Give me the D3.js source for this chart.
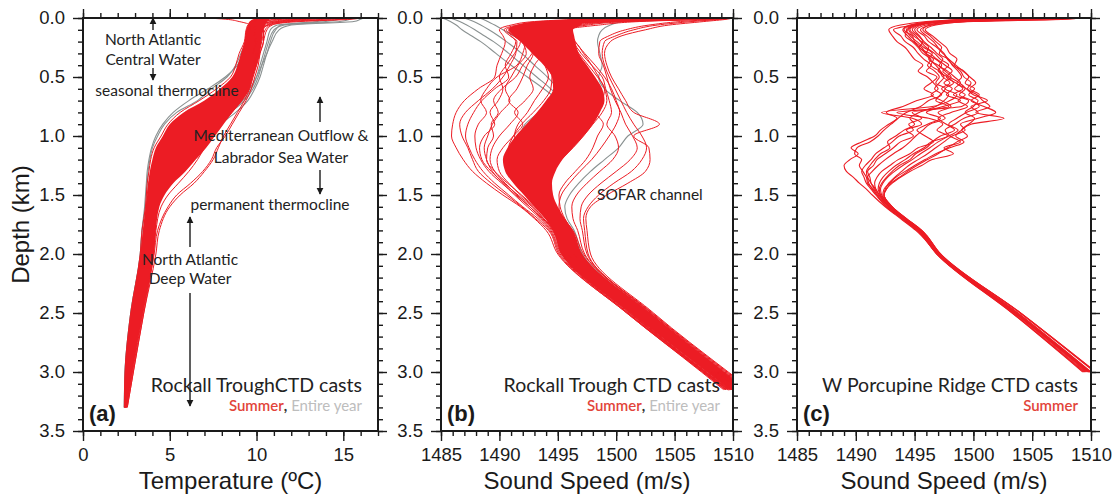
<!DOCTYPE html>
<html><head><meta charset="utf-8">
<script src="https://cdn.jsdelivr.net/npm/d3@7"></script>
<style>body{margin:0;background:#fff}svg{display:block}</style>
</head><body>
<svg id="chart" width="1119" height="497"></svg>
<script>
// ---------------- DATA ----------------
const depthTicks = [0, 0.5, 1.0, 1.5, 2.0, 2.5, 3.0, 3.5];
const tempTicks = [0, 5, 10, 15];
const speedTicks = [1485, 1490, 1495, 1500, 1505, 1510];

// Panel (a): temperature profiles (deg C) at depth levels (km)
const depthsA = [0,0.01,0.03,0.06,0.1,0.2,0.3,0.4,0.5,0.6,0.7,0.8,0.9,1.0,1.1,1.2,1.3,1.4,1.5,1.6,1.8,2.0,2.5,3.0,3.3];
const summerBandLoA = [10.0,9.8,9.6,9.5,9.4,9.3,9.1,8.9,8.6,7.9,7.0,5.8,5.0,4.6,4.2,4.0,3.85,3.75,3.7,3.62,3.45,3.3,2.75,2.42,2.38];
const summerBandHiA = [11.0,10.8,10.6,10.5,10.4,10.3,10.2,10.0,9.8,9.6,9.2,8.6,8.1,7.6,7.1,6.5,5.9,5.2,4.7,4.4,4.2,4.1,3.45,2.85,2.52];
const summerA1 = [16.0,15.5,12.5,10.8,10.5,10.3,10.1,9.9,9.7,9.4,9.0,8.4,7.8,7.2,6.8,6.4,5.8,5.1,4.6,4.3,4.1,4.0,3.4,2.8,2.5];
const summerA2 = [15.2,14.0,11.8,10.6,10.2,10.0,9.8,9.6,9.4,9.1,8.6,7.8,7.0,6.3,5.8,5.4,5.0,4.6,4.3,4.1,3.9,3.8,3.3,2.75,2.48];
const summerA3 = [7.1,8.2,9.0,9.6,9.6,9.5,9.3,9.1,8.9,8.4,7.6,6.6,5.6,5.0,4.6,4.3,4.1,3.9,3.8,3.7,3.5,3.35,2.8,2.45,2.4];
const summerA4 = [14.0,12.5,11.2,10.6,10.4,10.4,10.2,10.1,9.9,9.7,9.4,9.0,8.6,8.2,7.7,7.4,6.9,6.2,5.4,4.9,4.3,4.1,3.5,2.9,2.55];
const summerA5 = [12.5,11.5,10.8,10.2,9.9,9.7,9.5,9.3,9.0,8.6,8.0,7.1,6.2,5.5,5.0,4.6,4.3,4.1,3.9,3.8,3.6,3.5,2.9,2.55,2.42];
const summerA6 = [13.5,12.8,11.2,10.4,10.1,9.9,9.7,9.5,9.2,8.9,8.3,7.5,6.6,5.9,5.3,4.9,4.6,4.3,4.1,3.9,3.7,3.6,3.0,2.6,2.45];
const summerA7 = [10.5,10.2,9.8,9.5,9.4,9.3,9.0,8.8,8.5,7.7,6.7,5.6,4.9,4.5,4.1,3.9,3.8,3.7,3.65,3.6,3.4,3.3,2.75,2.42,2.38];
const summerA8 = [14.8,13.2,11.5,10.7,10.3,10.2,10.0,9.8,9.6,9.3,8.8,8.1,7.4,6.8,6.3,5.9,5.4,4.9,4.5,4.2,4.0,3.9,3.3,2.7,2.45];
const summerA9 = [11.5,11.0,10.6,10.4,10.3,10.2,10.1,10.0,9.8,9.6,9.3,8.9,8.5,8.1,7.8,7.5,7.0,6.4,5.6,5.0,4.4,4.2,3.5,2.9,2.55];
const summerA10 = [12.0,11.3,10.4,10.0,9.8,9.6,9.4,9.2,8.9,8.3,7.3,6.2,5.3,4.8,4.4,4.1,3.95,3.8,3.7,3.65,3.5,3.4,2.85,2.5,2.4];
const summerA11 = [15.8,15.0,12.0,10.9,10.6,10.4,10.2,10.0,9.7,9.5,9.1,8.6,8.0,7.4,7.0,6.6,6.1,5.5,4.9,4.5,4.2,4.05,3.45,2.85,2.52];
const summerA12 = [13.0,12.0,10.9,10.3,10.0,9.8,9.6,9.4,9.1,8.7,8.1,7.2,6.4,5.7,5.1,4.7,4.4,4.2,4.0,3.85,3.65,3.55,2.95,2.55,2.43];
const yearA1 = [16.2,16.0,15.6,12.0,11.3,10.9,10.6,10.4,10.2,9.9,9.5,8.8,7.9,7.1,6.5,6.0,5.5,5.0,4.6,4.3,4.05,3.95,3.35,2.75,2.48];
const yearA2 = [15.6,15.4,14.8,11.6,11.0,10.7,10.5,10.3,10.1,9.8,9.3,8.5,7.6,6.8,6.2,5.6,5.1,4.7,4.4,4.2,4.0,3.9,3.3,2.72,2.46];
const yearA3 = [10.2,10.0,9.8,9.7,9.6,9.4,9.1,8.8,8.3,7.4,6.6,5.4,4.7,4.3,4.0,3.85,3.75,3.7,3.65,3.6,3.4,3.3,2.75,2.42,2.38];
const yearA4 = [14.5,14.2,13.5,11.2,10.8,10.6,10.4,10.2,10.0,9.7,9.2,8.3,7.3,6.4,5.7,5.2,4.8,4.4,4.1,3.95,3.75,3.6,3.1,2.62,2.44];
const yearA5 = [10.8,10.5,10.1,9.9,9.7,9.5,9.2,8.9,8.2,7.2,6.1,5.2,4.6,4.2,3.95,3.8,3.7,3.65,3.6,3.55,3.4,3.3,2.75,2.42,2.38];
const yearA6 = [15.0,14.8,14.0,11.4,11.1,10.8,10.6,10.3,10.0,9.6,9.0,8.0,6.8,5.9,5.2,4.7,4.4,4.15,3.95,3.8,3.6,3.5,2.95,2.55,2.42];

// Panel (b): Rockall Trough sound speed (m/s)
const depthsB = [0,0.01,0.03,0.06,0.1,0.15,0.2,0.3,0.4,0.5,0.6,0.7,0.8,0.9,1.0,1.1,1.2,1.3,1.4,1.5,1.6,1.7,1.8,2.0,2.5,3.0,3.15];
const summerBandLoB = [1500,1497,1493.5,1491.5,1490.8,1491.2,1491.8,1492.8,1493.8,1494.5,1494.6,1494.0,1493.2,1492.3,1491.4,1490.7,1490.3,1490.5,1491.2,1492.1,1493.0,1493.9,1494.6,1495.3,1501.3,1507.8,1509.7];
const summerBandHiB = [1503,1500.5,1497.2,1497.0,1496.3,1496.4,1496.5,1496.8,1497.5,1498.2,1498.8,1499.0,1498.6,1498.0,1497.2,1496.3,1495.4,1494.8,1494.5,1494.6,1495.0,1495.6,1496.3,1497.1,1502.9,1509.2,1511.1];
const summerB1 = [1509.5,1507,1499,1495.5,1493.5,1494.0,1494.6,1495.4,1496.2,1496.8,1497.3,1497.0,1496.4,1495.5,1494.6,1493.8,1493.1,1492.6,1492.5,1493.0,1493.7,1494.5,1495.3,1496.2,1502.2,1508.6,1510.5];
const summerB2 = [1508,1505,1497.5,1494.5,1492.5,1493.0,1493.5,1494.3,1495.0,1495.6,1496.1,1495.9,1495.2,1494.5,1493.6,1492.8,1492.2,1491.9,1492.0,1492.6,1493.4,1494.2,1495.0,1495.9,1501.8,1508.2,1510.2];
const summerB3 = [1506,1503,1496.5,1493.5,1491.8,1492.2,1493.0,1493.8,1494.6,1495.2,1495.5,1495.1,1494.3,1493.4,1492.6,1491.9,1491.4,1491.5,1491.9,1492.5,1493.3,1494.1,1494.8,1495.6,1501.4,1507.9,1509.9];
const summerB4 = [1510,1508.5,1500,1496.5,1495.2,1495.5,1496.0,1496.6,1497.2,1497.8,1498.2,1498.0,1497.4,1496.8,1496.0,1495.1,1494.3,1493.6,1493.3,1493.6,1494.2,1494.9,1495.7,1496.6,1502.6,1508.9,1510.9];
const summerB5 = [1504,1501,1495.5,1493.0,1491.0,1491.6,1492.3,1493.2,1494.0,1494.8,1495.0,1494.5,1493.6,1492.5,1491.8,1491.2,1491.0,1491.3,1491.8,1492.4,1493.2,1494.0,1494.7,1495.5,1501.2,1507.6,1509.6];
const summerB6 = [1507,1504,1498,1495.0,1494.0,1494.4,1495.0,1495.8,1496.5,1497.2,1497.8,1497.5,1497.0,1496.3,1495.6,1494.8,1494.0,1493.3,1493.0,1493.3,1494.0,1494.8,1495.6,1496.4,1502.4,1508.7,1510.6];
const summerB7 = [1502,1499,1494.5,1492.0,1490.6,1491.2,1492.0,1493.0,1493.9,1494.5,1494.4,1493.8,1492.9,1491.9,1491.2,1490.8,1490.9,1491.3,1491.9,1492.6,1493.4,1494.1,1494.8,1495.4,1501.0,1507.4,1509.4];
const summerB8 = [1509,1506,1498.5,1495.8,1494.8,1495.2,1495.8,1496.5,1497.3,1498.0,1498.6,1498.9,1498.4,1497.6,1496.7,1495.7,1494.8,1494.0,1493.6,1493.8,1494.4,1495.2,1496.0,1496.9,1502.8,1509.2,1511.2];
const summerB9 = [1505,1502,1497,1494.2,1493.0,1493.5,1494.1,1494.9,1495.6,1496.3,1496.7,1496.3,1495.7,1494.9,1494.0,1493.1,1492.5,1492.2,1492.3,1492.9,1493.6,1494.4,1495.2,1496.0,1502.0,1508.4,1510.4];
const summerB10 = [1508.5,1505.5,1499,1496.0,1495.0,1495.6,1496.4,1497.2,1497.9,1498.5,1499.0,1499.2,1498.8,1498.0,1497.2,1496.3,1495.3,1494.5,1494.0,1494.1,1494.7,1495.5,1496.3,1497.2,1503.0,1509.4,1511.4];
const summerB11 = [1503,1500,1496,1493.4,1492.2,1492.6,1493.2,1494.0,1494.8,1495.5,1495.9,1495.6,1495.0,1494.2,1493.2,1492.4,1491.8,1491.7,1491.9,1492.5,1493.3,1494.1,1494.9,1495.7,1501.6,1508.0,1510.0];
const summerB12 = [1506.5,1503.5,1497.5,1495.2,1494.4,1494.8,1495.4,1496.2,1497.0,1497.7,1498.1,1497.6,1496.9,1496.0,1495.0,1494.2,1493.5,1492.9,1492.8,1493.2,1493.9,1494.7,1495.5,1496.3,1502.3,1508.8,1510.7];
const summerB13 = [1500,1497,1493,1491.0,1490.0,1490.3,1490.5,1490.2,1489.8,1489.6,1488.2,1487.0,1486.3,1486.0,1485.9,1486.3,1486.9,1487.7,1488.9,1490.3,1491.8,1493.0,1494.0,1495.0,1500.9,1507.3,1509.2];
const summerB14 = [1502.5,1499.5,1494,1491.8,1490.8,1491.0,1491.4,1491.0,1490.5,1490.8,1489.6,1488.5,1487.8,1487.3,1487.1,1487.4,1487.9,1488.6,1489.6,1490.8,1492.0,1493.3,1494.3,1495.2,1501.0,1507.5,1509.4];
const summerB15 = [1504.5,1501,1495,1492.5,1491.4,1491.8,1492.2,1492.0,1491.5,1489.8,1488.9,1488.4,1488.9,1488.2,1487.9,1488.0,1488.4,1489.1,1490.2,1491.4,1492.6,1493.7,1494.6,1495.4,1501.2,1507.6,1509.6];
const summerB16 = [1503.5,1500.5,1495,1492.4,1491.2,1491.5,1491.8,1491.3,1490.6,1490.0,1490.3,1489.9,1489.2,1489.6,1488.7,1488.3,1488.5,1489.3,1490.4,1491.6,1492.8,1493.8,1494.7,1495.5,1501.3,1507.7,1509.7];
const summerB17 = [1506,1502.5,1496,1493.2,1492.0,1492.6,1493.2,1492.8,1492.0,1491.4,1490.2,1489.5,1489.9,1489.3,1489.5,1489.0,1488.9,1489.6,1490.7,1491.9,1493.0,1494.0,1494.8,1495.6,1501.4,1507.8,1509.8];
const summerB18 = [1501,1498,1493.5,1491.5,1490.4,1490.9,1491.5,1491.4,1490.9,1490.3,1489.4,1488.2,1487.1,1486.6,1486.8,1487.3,1487.7,1488.2,1489.3,1490.6,1491.9,1493.1,1494.2,1495.1,1500.9,1507.4,1509.3];
const summerB19 = [1510,1509.5,1507.5,1504.5,1502.5,1500.5,1499.5,1499.0,1499.2,1499.6,1500.2,1500.8,1501.5,1503.7,1501.5,1502.8,1502.9,1502.5,1501.0,1499.2,1497.8,1497.4,1497.5,1497.8,1503.2,1509.6,1511.6];
const summerB20 = [1510,1509,1506.5,1503.5,1501.5,1500.0,1499.0,1498.8,1499.0,1499.4,1499.9,1500.4,1500.9,1501.5,1502.2,1502.6,1502.2,1501.3,1499.8,1498.5,1497.6,1497.2,1497.3,1497.6,1503.1,1509.5,1511.5];
const summerB21 = [1509.8,1508.5,1505.5,1502.8,1500.8,1499.4,1498.6,1498.5,1498.9,1499.2,1499.5,1499.9,1500.4,1500.8,1501.4,1501.8,1501.2,1500.0,1498.7,1497.6,1497.0,1496.9,1497.1,1497.5,1503.0,1509.3,1511.3];
const summerB22 = [1509.5,1507.5,1502,1498.5,1495.8,1496.0,1496.3,1497.0,1497.9,1498.8,1499.1,1499.4,1499.6,1499.2,1499.9,1500.2,1499.7,1498.6,1497.5,1496.6,1496.2,1496.3,1496.7,1497.3,1502.9,1509.2,1511.2];
const summerB23 = [1508,1506,1500,1497.0,1495.5,1495.8,1496.1,1496.8,1497.6,1498.4,1499.0,1498.8,1498.3,1498.9,1498.4,1498.0,1497.4,1496.5,1495.6,1495.1,1495.2,1495.6,1496.2,1497.0,1502.7,1509.0,1511.0];
const summerB24 = [1509,1507,1501,1497.5,1495.9,1496.2,1496.5,1497.3,1498.2,1499.0,1499.6,1500.0,1500.3,1500.0,1499.4,1498.7,1497.9,1496.9,1496.0,1495.3,1495.1,1495.4,1496.0,1496.8,1502.5,1508.9,1510.9];
const summerB25 = [1503,1500,1495,1492.8,1491.6,1492.0,1492.5,1492.9,1492.4,1492.0,1491.5,1490.8,1491.6,1490.9,1490.0,1489.4,1489.2,1489.6,1490.5,1491.5,1492.6,1493.6,1494.5,1495.4,1501.2,1507.6,1509.6];
const summerB26 = [1505,1502,1496,1493.5,1492.3,1492.7,1493.2,1493.6,1493.0,1492.6,1492.9,1492.2,1491.3,1492.0,1491.2,1490.3,1489.8,1490.0,1490.8,1491.8,1492.9,1493.8,1494.6,1495.5,1501.3,1507.7,1509.7];
const summerB27 = [1501.5,1498.5,1494,1491.9,1490.9,1491.3,1491.9,1492.3,1491.6,1491.0,1490.5,1490.9,1490.1,1489.4,1489.0,1488.7,1488.9,1489.4,1490.3,1491.3,1492.4,1493.5,1494.4,1495.3,1501.1,1507.5,1509.5];
const summerB28 = [1507.5,1505,1498,1495.3,1494.0,1494.2,1494.0,1493.6,1493.9,1494.2,1493.7,1493.0,1492.4,1491.6,1491.3,1491.5,1490.8,1491.0,1491.6,1492.3,1493.1,1494.0,1494.8,1495.6,1501.5,1507.9,1509.9];
const yearB1 = [1485.1,1485.4,1485.8,1486.3,1486.8,1487.6,1488.4,1489.7,1491.0,1492.4,1493.8,1494.9,1495.0,1494.3,1493.4,1492.6,1492.0,1491.9,1492.1,1492.7,1493.5,1494.3,1495.1,1495.9,1501.7,1508.1,1510.1];
const yearB2 = [1485.8,1486.1,1486.6,1487.2,1487.9,1488.7,1489.5,1490.8,1492.0,1493.2,1494.4,1495.4,1495.4,1494.6,1493.8,1493.0,1492.4,1492.2,1492.4,1493.0,1493.8,1494.6,1495.4,1496.2,1502.0,1508.4,1510.4];
const yearB3 = [1487.0,1487.3,1487.8,1488.4,1489.1,1489.9,1490.6,1491.9,1493.0,1494.1,1494.9,1495.0,1494.2,1493.3,1492.5,1491.8,1491.4,1491.5,1491.9,1492.6,1493.4,1494.2,1495.0,1495.8,1501.6,1508.0,1510.0];
const yearB4 = [1488.3,1488.6,1489.0,1489.6,1490.3,1491.2,1492.0,1493.1,1494.1,1494.8,1495.2,1494.6,1493.4,1492.2,1491.8,1491.6,1491.5,1491.7,1492.1,1492.8,1493.5,1494.3,1495.1,1495.9,1501.7,1508.1,1510.1];
const yearB5 = [1503,1502,1500.5,1499.5,1498.8,1498.5,1498.4,1498.6,1498.8,1498.5,1499.0,1500.3,1501.8,1502.3,1501.0,1500.2,1499.0,1497.8,1496.8,1496.0,1495.6,1495.8,1496.4,1497.1,1502.8,1509.1,1511.1];

// Panel (c): W Porcupine Ridge sound speed (m/s)
const depthsC = [0,0.01,0.03,0.06,0.1,0.15,0.2,0.25,0.3,0.35,0.4,0.45,0.5,0.55,0.6,0.65,0.7,0.75,0.8,0.85,0.9,0.95,1.0,1.05,1.1,1.15,1.2,1.25,1.3,1.35,1.4,1.45,1.5,1.6,1.7,1.8,2.0,2.5,3.0];
const summerC1 = [1507.5,1504,1498,1495,1493.2,1493.8,1494.2,1494.9,1495.3,1495.8,1496.4,1496.0,1496.9,1496.4,1495.8,1496.6,1495.2,1494.0,1492.6,1493.5,1492.8,1492.1,1491.6,1490.5,1489.6,1490.2,1489.5,1489.0,1489.2,1489.8,1490.3,1490.9,1491.4,1492.5,1493.8,1495.1,1497.0,1503.6,1509.7];
const summerC2 = [1509,1508,1500,1496.5,1495.5,1496.0,1496.6,1497.0,1497.5,1497.8,1498.3,1498.9,1499.2,1499.8,1499.5,1500.3,1500.8,1501.4,1500.2,1502.6,1499.8,1499.0,1498.5,1499.2,1498.0,1496.8,1495.9,1495.0,1494.2,1493.4,1492.9,1492.4,1492.3,1493.0,1494.3,1495.6,1497.2,1504.0,1510.4];
const summerC3 = [1504,1502,1497.5,1495.2,1494.5,1494.9,1495.6,1496.2,1496.0,1496.8,1497.3,1497.0,1497.8,1498.3,1497.6,1498.6,1498.0,1496.5,1492.2,1494.8,1495.6,1494.3,1494.9,1493.8,1493.2,1492.5,1491.8,1491.5,1491.0,1491.2,1491.3,1491.6,1491.9,1492.8,1494.1,1495.4,1497.0,1503.5,1509.6];
const summerC4 = [1501,1499,1496,1493.8,1492.8,1493.1,1493.5,1494.2,1494.6,1495.0,1495.7,1495.3,1496.1,1496.6,1497.0,1496.4,1497.3,1498.1,1497.0,1497.6,1496.3,1495.7,1495.1,1494.6,1494.0,1493.2,1492.5,1491.9,1491.4,1491.0,1491.1,1491.4,1491.8,1492.7,1494.0,1495.3,1496.9,1503.3,1509.3];
const summerC5 = [1508,1506,1499,1496.0,1495.2,1495.8,1496.2,1496.9,1497.4,1497.9,1498.2,1498.7,1499.0,1498.6,1499.4,1500.0,1501.2,1499.8,1500.4,1499.2,1498.4,1497.6,1498.0,1498.9,1497.5,1498.3,1496.5,1495.6,1494.6,1493.8,1493.1,1492.6,1492.4,1493.1,1494.2,1495.5,1497.1,1503.8,1510.0];
const summerC6 = [1505,1503,1497,1494.6,1494.0,1494.4,1494.9,1495.4,1495.9,1496.3,1496.8,1497.2,1497.5,1497.1,1496.7,1497.3,1496.2,1495.5,1494.3,1493.6,1493.0,1492.4,1491.9,1491.2,1490.1,1489.9,1490.5,1490.3,1490.6,1490.9,1491.0,1491.5,1491.8,1492.6,1493.9,1495.2,1496.9,1503.5,1509.8];
const summerC7 = [1502,1500,1497.2,1495.4,1494.8,1495.3,1495.7,1495.4,1496.3,1496.9,1497.6,1498.2,1497.7,1498.5,1499.1,1498.3,1499.6,1499.0,1493.5,1496.2,1497.4,1496.9,1497.8,1496.4,1495.8,1494.9,1494.2,1493.4,1492.8,1492.3,1492.0,1491.9,1492.1,1492.9,1494.2,1495.4,1497.0,1503.6,1509.9];
const summerC8 = [1506.5,1504.5,1498.5,1496.3,1495.7,1496.3,1496.8,1497.3,1497.1,1497.9,1498.5,1499.1,1499.6,1499.3,1500.1,1499.6,1500.4,1500.0,1499.3,1500.1,1499.6,1499.0,1499.5,1498.6,1497.8,1497.0,1496.1,1495.2,1494.4,1493.7,1493.0,1492.6,1492.4,1493.1,1494.3,1495.6,1497.2,1504.0,1510.3];
const summerC9 = [1503,1501,1497,1495,1494.3,1494.6,1495.2,1495.8,1496.5,1496.2,1497.0,1497.6,1498.1,1497.5,1498.2,1497.7,1498.9,1497.4,1496.0,1497.2,1496.1,1495.2,1495.9,1496.6,1495.3,1494.6,1493.6,1492.9,1492.2,1491.8,1491.6,1491.7,1492.0,1492.8,1494.1,1495.4,1497.0,1503.6,1509.8];
const summerC10 = [1500.5,1499.5,1496.5,1494.8,1494.1,1494.8,1495.0,1495.6,1496.0,1496.6,1496.4,1497.1,1497.4,1498.0,1497.3,1497.9,1497.5,1496.8,1495.4,1494.6,1495.0,1494.1,1493.4,1492.7,1492.9,1492.1,1491.6,1491.2,1490.9,1491.0,1491.3,1491.7,1492.0,1492.8,1494.0,1495.3,1496.9,1503.3,1509.4];
const summerC11 = [1508.8,1507.5,1499.5,1496.8,1495.9,1496.5,1497.1,1497.7,1498.0,1498.6,1498.4,1499.2,1499.7,1500.2,1499.7,1500.5,1499.8,1500.9,1501.9,1500.4,1498.9,1499.3,1498.2,1497.5,1496.8,1496.1,1495.3,1494.5,1493.9,1493.3,1492.8,1492.5,1492.4,1493.1,1494.3,1495.6,1497.2,1504.0,1510.4];
const summerC12 = [1505.5,1503.5,1497.8,1495.6,1495.0,1495.4,1495.8,1496.4,1496.9,1497.4,1497.1,1497.8,1498.4,1498.9,1498.4,1499.3,1498.7,1499.5,1498.1,1497.0,1497.7,1498.4,1497.2,1496.5,1496.0,1495.1,1494.6,1493.7,1493.1,1492.6,1492.2,1492.0,1492.1,1492.9,1494.2,1495.5,1497.1,1503.7,1509.9];
const summerC13 = [1503.5,1502,1497.4,1495.3,1494.6,1495.1,1495.5,1496.0,1496.7,1497.2,1497.9,1497.4,1498.0,1498.8,1499.3,1498.8,1499.9,1500.5,1499.4,1498.6,1497.9,1498.7,1497.9,1497.0,1496.3,1495.5,1494.8,1494.0,1493.3,1492.7,1492.3,1492.1,1492.2,1493.0,1494.2,1495.5,1497.1,1503.7,1510.0];
const summerC14 = [1502.5,1501,1496.8,1494.9,1494.4,1494.2,1494.8,1495.3,1495.7,1496.4,1496.1,1496.7,1497.1,1496.8,1497.6,1497.2,1496.8,1497.9,1494.8,1495.6,1494.5,1494.9,1493.7,1493.1,1492.4,1491.7,1491.3,1490.8,1490.5,1490.7,1490.9,1491.3,1491.7,1492.6,1493.9,1495.2,1496.9,1503.4,1509.5];

// ---------------- DRAWING ----------------
(function () {
const RED = "#ec1c24", GRAY = "#8a9191", INK = "#1a1a1a";
const AXFONT = "'Liberation Sans', Arial, Helvetica, sans-serif";
const ANFONT = "Lato, 'Open Sans', sans-serif";
const svg = d3.select("#chart");
const TOP = 18, BOT = 431;
const y = d3.scaleLinear().domain([0, 3.5]).range([TOP, BOT]);
const depthMinor = d3.range(0, 3.5001, 0.1);

const panels = [
  {id: "a", x: d3.scaleLinear().domain([0, 17]).range([83, 378]), ticks: tempTicks, minor: d3.range(0, 17.001, 1), fmt: d3.format("d"),
   title: "Temperature (\u00baC)", depths: depthsA,
   band: [summerBandLoA, summerBandHiA],
   gray: [yearA1, yearA2, yearA3, yearA4, yearA5, yearA6],
   red: [summerA1, summerA2, summerA3, summerA4, summerA5, summerA6, summerA7, summerA8, summerA9, summerA10, summerA11, summerA12], lw: 1},
  {id: "b", x: d3.scaleLinear().domain([1485, 1510]).range([441, 733]), ticks: speedTicks, minor: d3.range(1485, 1510.001, 1), fmt: d3.format("d"),
   title: "Sound Speed (m/s)", depths: depthsB,
   band: [summerBandLoB, summerBandHiB],
   gray: [yearB1, yearB2, yearB3, yearB4, yearB5],
   red: [summerB1, summerB2, summerB3, summerB4, summerB5, summerB6, summerB7, summerB8, summerB9, summerB10, summerB11, summerB12,
         summerB13, summerB14, summerB15, summerB16, summerB17, summerB18, summerB19, summerB20, summerB21, summerB22, summerB23, summerB24,
         summerB25, summerB26, summerB27, summerB28], lw: 1},
  {id: "c", x: d3.scaleLinear().domain([1485, 1510]).range([797, 1091]), ticks: speedTicks, minor: d3.range(1485, 1510.001, 1), fmt: d3.format("d"),
   title: "Sound Speed (m/s)", depths: depthsC, band: null, gray: [],
   red: [summerC1, summerC2, summerC3, summerC4, summerC5, summerC6, summerC7, summerC8, summerC9, summerC10, summerC11, summerC12, summerC13, summerC14], lw: 1.1}
];

const defs = svg.append("defs");
defs.append("marker").attr("id", "ah").attr("viewBox", "0 0 10 10").attr("refX", 9).attr("refY", 5)
  .attr("markerUnits", "userSpaceOnUse").attr("markerWidth", 7).attr("markerHeight", 8).attr("orient", "auto")
  .append("path").attr("d", "M0,0 L10,5 L0,10 z").attr("fill", INK);

panels.forEach(p => {
  const [x0, x1] = p.x.range();
  defs.append("clipPath").attr("id", "clip-" + p.id).append("rect")
    .attr("x", x0).attr("y", TOP).attr("width", x1 - x0).attr("height", BOT - TOP);
  const g = svg.append("g").attr("clip-path", `url(#clip-${p.id})`);
  const line = d3.line().curve(d3.curveMonotoneY).x(v => p.x(v)).y((v, i) => y(p.depths[i]));
  g.selectAll("path.gray").data(p.gray).join("path").attr("class", "gray")
    .attr("d", line).attr("fill", "none").attr("stroke", GRAY).attr("stroke-width", 1.1);
  if (p.band) {
    const area = d3.area().curve(d3.curveMonotoneY).y((d, i) => y(p.depths[i]))
      .x0((d, i) => p.x(p.band[0][i])).x1((d, i) => p.x(p.band[1][i]));
    g.append("path").datum(p.depths).attr("d", area).attr("fill", RED);
  }
  g.selectAll("path.red").data(p.red).join("path").attr("class", "red")
    .attr("d", line).attr("fill", "none").attr("stroke", RED).attr("stroke-width", p.lw).attr("stroke-linejoin", "round");

  const styleAxis = sel => {
    sel.select(".domain").remove();
    sel.selectAll(".tick line").attr("stroke", INK).attr("stroke-width", 1.4);
    sel.selectAll("text").attr("font-family", AXFONT).attr("font-size", 18.5).attr("fill", INK);
  };
  svg.append("g").attr("transform", `translate(${x0},0)`).call(d3.axisLeft(y).tickValues(depthMinor).tickSize(5).tickFormat("")).call(styleAxis);
  svg.append("g").attr("transform", `translate(${x0},0)`).call(d3.axisLeft(y).tickValues(depthTicks).tickSize(10).tickPadding(8).tickFormat(d3.format(".1f"))).call(styleAxis);
  svg.append("g").attr("transform", `translate(${x1},0)`).call(d3.axisRight(y).tickValues(depthMinor).tickSize(5).tickFormat("")).call(styleAxis);
  svg.append("g").attr("transform", `translate(${x1},0)`).call(d3.axisRight(y).tickValues(depthTicks).tickSize(9).tickFormat("")).call(styleAxis);
  svg.append("g").attr("transform", `translate(0,${TOP})`).call(d3.axisTop(p.x).tickValues(p.minor).tickSize(5).tickFormat("")).call(styleAxis);
  svg.append("g").attr("transform", `translate(0,${TOP})`).call(d3.axisTop(p.x).tickValues(p.ticks).tickSize(9).tickFormat("")).call(styleAxis);
  svg.append("g").attr("transform", `translate(0,${BOT})`).call(d3.axisBottom(p.x).tickValues(p.minor).tickSize(5).tickFormat("")).call(styleAxis);
  svg.append("g").attr("transform", `translate(0,${BOT})`).call(d3.axisBottom(p.x).tickValues(p.ticks).tickSize(10).tickPadding(7).tickFormat(p.fmt)).call(styleAxis);

  svg.append("rect").attr("x", x0).attr("y", TOP).attr("width", x1 - x0).attr("height", BOT - TOP)
    .attr("fill", "none").attr("stroke", INK).attr("stroke-width", 2);

  svg.append("text").attr("x", (x0 + x1) / 2).attr("y", 489).attr("text-anchor", "middle")
    .attr("font-family", AXFONT).attr("font-size", 24).attr("fill", INK).text(p.title);
  svg.append("text").attr("x", x0 + 6).attr("y", 421).attr("font-family", AXFONT).attr("font-weight", "bold")
    .attr("font-size", 22).attr("fill", INK).text(`(${p.id})`);
});

svg.append("text").attr("transform", `translate(29,${(TOP + BOT) / 2}) rotate(-90)`).attr("text-anchor", "middle")
  .attr("font-family", AXFONT).attr("font-size", 24).attr("fill", INK).text("Depth (km)");

const note = (x, yy, txt, size, anchor) => svg.append("text").attr("x", x).attr("y", yy)
  .attr("text-anchor", anchor || "middle").attr("font-family", ANFONT).attr("font-size", size).attr("fill", "#222").text(txt);
note(153, 45, "North Atlantic", 15.5);
note(153, 65, "Central Water", 15.5);
note(167, 96, "seasonal thermocline", 15.5);
note(281, 141, "Mediterranean Outflow &", 15.5);
note(281, 163, "Labrador Sea Water", 15.5);
note(270, 210, "permanent thermocline", 15.5);
note(190, 265, "North Atlantic", 15.5);
note(190, 284, "Deep Water", 15.5);
note(597, 200, "SOFAR channel", 15.5, "start");
note(362, 392, "Rockall TroughCTD casts", 19.5, "end");
note(720, 392, "Rockall Trough CTD casts", 19.5, "end");
note(1078, 392, "W Porcupine Ridge CTD casts", 19.5, "end");

const legend = (x, withYear) => {
  const t = svg.append("text").attr("x", x).attr("y", 411).attr("text-anchor", "end")
    .attr("font-family", ANFONT).attr("font-size", 15);
  t.append("tspan").attr("fill", "#e2443a").attr("font-weight", 600).text("Summer");
  if (withYear) {
    t.append("tspan").attr("fill", "#333").attr("font-weight", 700).text(",");
    t.append("tspan").attr("fill", "#bdbdbd").text(" Entire year");
  }
};
legend(362, true); legend(720, true); legend(1078, false);

const arrows = [[153, 30, 18], [153, 68, 80], [320, 122, 97], [320, 170, 194], [190, 247, 217], [190, 293, 406]];
svg.selectAll("line.arrow").data(arrows).join("line").attr("class", "arrow")
  .attr("x1", d => d[0]).attr("x2", d => d[0]).attr("y1", d => d[1]).attr("y2", d => d[2])
  .attr("stroke", INK).attr("stroke-width", 1.4).attr("marker-end", "url(#ah)");
})();
</script>
</body></html>
